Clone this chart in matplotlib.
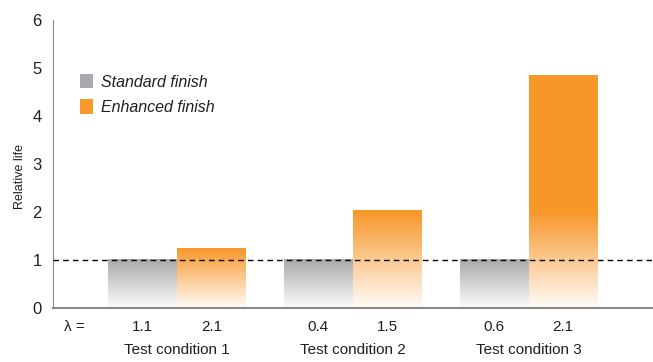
import matplotlib
matplotlib.use("Agg")
import matplotlib.pyplot as plt
import matplotlib.transforms as mtransforms
from matplotlib.patches import Patch
from matplotlib.colors import to_rgb
import numpy as np

fonts = ['Liberation Sans Narrow', 'Liberation Sans', 'DejaVu Sans']
plt.rcParams['font.family'] = fonts

conditions = ['Test condition 1', 'Test condition 2', 'Test condition 3']
standard = [1.0, 1.0, 1.0]
enhanced = [1.23, 2.02, 4.85]
lam_standard = ['1.1', '0.4', '0.6']
lam_enhanced = ['2.1', '1.5', '2.1']

gray = '#A7A9AC'
orange = '#F8972A'
text_col = '#231F20'
width = 0.392
fade_top = 2.0  # gradient reaches full colour at this height


def gradient_bar(ax, x0, h, color):
    n = 200
    ys = np.linspace(0, h, n)
    t = np.clip(ys / min(h, fade_top), 0, 1)
    t = 0.03 + 0.97 * t
    c = np.array(to_rgb(color))
    rgb = (1 - t)[:, None] * np.ones(3) + t[:, None] * c
    img = np.repeat(rgb[:, None, :], 2, axis=1)
    ax.imshow(img, extent=[x0, x0 + width, 0, h], origin='lower',
              aspect='auto', interpolation='bilinear', zorder=2)


fig = plt.figure(figsize=(6.53, 3.62), dpi=100)
ax = fig.add_axes([0.081, 0.149, 0.917, 0.796])

x = np.arange(len(conditions))
for i in x:
    gradient_bar(ax, i - width, standard[i], gray)
    gradient_bar(ax, i, enhanced[i], orange)

ax.axhline(1, color='black', lw=1.0, ls=(0, (4, 3)), zorder=3)

ax.set_xlim(-0.705, 2.70)
ax.set_ylim(0, 6)
ax.set_yticks(range(7))
ax.tick_params(axis='y', length=0, labelsize=12, labelcolor=text_col, pad=8)
ax.set_xticks([])
ax.set_xticks(np.linspace(-0.705, 2.70, 8)[1:-1], minor=True)
ax.tick_params(axis='x', which='minor', length=2, direction='inout', color='#d0d0d0')
for s in ['top', 'right']:
    ax.spines[s].set_visible(False)
ax.spines['left'].set_color('#8a8a8a')
ax.spines['bottom'].set_color('#8a8a8a')
ax.spines['bottom'].set_linewidth(1.5)
ax.set_ylabel('Relative life', fontsize=9, color=text_col)
ax.yaxis.set_label_coords(-0.045, 0.455)

trans = mtransforms.blended_transform_factory(ax.transData, ax.transAxes)
ax.text(-0.64, -0.065, 'λ =', transform=trans, ha='left', va='center',
        fontsize=11, color=text_col)
for i in x:
    ax.text(i - width / 2, -0.065, lam_standard[i], transform=trans,
            ha='center', va='center', fontsize=11, color=text_col)
    ax.text(i + width / 2, -0.065, lam_enhanced[i], transform=trans,
            ha='center', va='center', fontsize=11, color=text_col)
    ax.text(i, -0.145, conditions[i], transform=trans, ha='center',
            va='center', fontsize=11, color=text_col)

handles = [Patch(facecolor=gray, edgecolor='none', label='Standard finish'),
           Patch(facecolor=orange, edgecolor='none', label='Enhanced finish')]
leg = ax.legend(handles=handles, loc='upper left', bbox_to_anchor=(0.021, 0.862),
                frameon=False, handlelength=0.8, handleheight=1.0,
                handletextpad=0.55, labelspacing=0.6,
                prop={'style': 'italic', 'size': 11.5, 'family': fonts})
for t in leg.get_texts():
    t.set_color(text_col)

fig.savefig('out.png', dpi=100)
